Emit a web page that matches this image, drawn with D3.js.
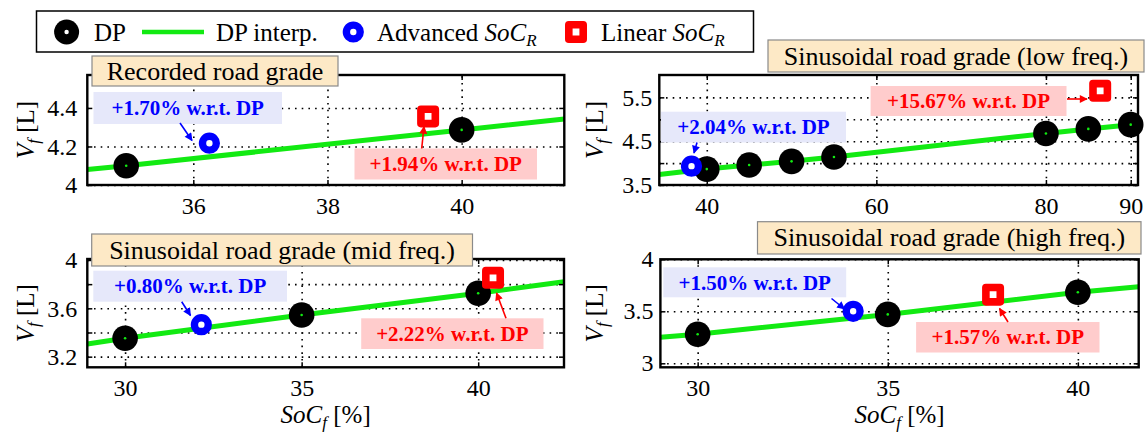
<!DOCTYPE html>
<html><head><meta charset="utf-8">
<script src="https://cdn.jsdelivr.net/npm/d3@7"></script>
<style>body{margin:0;background:#fff} svg{display:block}</style>
</head><body>
<svg id="c" width="1148" height="434"></svg>
<script>
// ---------------- DATA ----------------
// Panel 1: Recorded road grade
const p1Title = "Recorded road grade";
const p1DpSoc = [35, 40];
const p1DpVf = [4.10, 4.286];
const p1InterpSoc = [34.42, 35, 40, 41.53];
const p1InterpVf = [4.08, 4.10, 4.286, 4.343];
const p1AdvSoc = [36.24], p1AdvVf = [4.217];
const p1LinSoc = [39.5], p1LinVf = [4.356];
const p1AdvNote = "+1.70% w.r.t. DP", p1LinNote = "+1.94% w.r.t. DP";
const p1XTicks = [36, 38, 40];
const p1YGrid = [4, 4.2, 4.4];
const p1YLabels = [4, 4.2, 4.4];

// Panel 2: Sinusoidal (low freq.)
const p2Title = "Sinusoidal road grade (low freq.)";
const p2DpSoc = [40, 45, 50, 55, 80, 85, 90];
const p2DpVf = [3.863, 3.956, 4.04, 4.14, 4.675, 4.78, 4.877];
const p2InterpSoc = [34.4, 40, 45, 50, 55, 80, 85, 90, 90.86];
const p2InterpVf = [3.74, 3.863, 3.956, 4.04, 4.14, 4.675, 4.78, 4.877, 4.90];
const p2AdvSoc = [38.2], p2AdvVf = [3.93];
const p2LinSoc = [86.4], p2LinVf = [5.65];
const p2AdvNote = "+2.04% w.r.t. DP", p2LinNote = "+15.67% w.r.t. DP";
const p2XTicks = [40, 60, 80, 90];
const p2YGrid = [3.5, 4, 4.5, 5, 5.5];
const p2YLabels = [3.5, 4.5, 5.5];

// Panel 3: Sinusoidal (mid freq.)
const p3Title = "Sinusoidal road grade (mid freq.)";
const p3DpSoc = [30, 35, 40];
const p3DpVf = [3.352, 3.545, 3.725];
const p3InterpSoc = [28.93, 30, 35, 40, 42.43];
const p3InterpVf = [3.305, 3.352, 3.545, 3.725, 3.82];
const p3AdvSoc = [32.16], p3AdvVf = [3.465];
const p3LinSoc = [40.42], p3LinVf = [3.852];
const p3AdvNote = "+0.80% w.r.t. DP", p3LinNote = "+2.22% w.r.t. DP";
const p3XTicks = [30, 35, 40];
const p3YGrid = [3.2, 3.4, 3.6, 3.8, 4];
const p3YLabels = [3.2, 3.6, 4];

// Panel 4: Sinusoidal (high freq.)
const p4Title = "Sinusoidal road grade (high freq.)";
const p4DpSoc = [30, 35, 40];
const p4DpVf = [3.279, 3.47, 3.683];
const p4InterpSoc = [29.02, 30, 35, 40, 41.6];
const p4InterpVf = [3.25, 3.279, 3.47, 3.683, 3.737];
const p4AdvSoc = [34.09], p4AdvVf = [3.50];
const p4LinSoc = [37.77], p4LinVf = [3.66];
const p4AdvNote = "+1.50% w.r.t. DP", p4LinNote = "+1.57% w.r.t. DP";
const p4XTicks = [30, 35, 40];
const p4YGrid = [3, 3.5, 4];
const p4YLabels = [3, 3.5, 4];

// ---------------- LAYOUT ----------------
const FONT = "'Liberation Serif','Times New Roman',Times,serif";
const GREEN = "#12ea12", BLUE = "#0000ff", RED = "#ff0000";
const panels = [
  {L:87.3,R:564.3,T:75,B:185, xd:[34.42,41.53], yd:[4.0,4.571],
   dpS:p1DpSoc,dpV:p1DpVf,inS:p1InterpSoc,inV:p1InterpVf,advS:p1AdvSoc,advV:p1AdvVf,linS:p1LinSoc,linV:p1LinVf,
   xt:p1XTicks, yg:p1YGrid, yl:p1YLabels, ylPad:10, xlabel:false, ylabX:34,
   title:{text:p1Title,x0:92,x1:338,y0:56,y1:86},
   adv:{text:p1AdvNote,x0:93.5,x1:282,y0:92,y1:124,arrow:[180,123,192,140.5]},
   lin:{text:p1LinNote,x0:354.5,x1:537,y0:148.5,y1:179.5,arrow:[421.7,148.5,424,126.5]}},
  {L:659.3,R:1138,T:75,B:185, xd:[34.4,90.86], yd:[3.5,6.01],
   dpS:p2DpSoc,dpV:p2DpVf,inS:p2InterpSoc,inV:p2InterpVf,advS:p2AdvSoc,advV:p2AdvVf,linS:p2LinSoc,linV:p2LinVf,
   xt:p2XTicks, yg:p2YGrid, yl:p2YLabels, ylPad:7, xlabel:false, ylabX:603,
   title:{text:p2Title,x0:768,x1:1144,y0:40,y1:72},
   adv:{text:p2AdvNote,x0:661,x1:846,y0:111.7,y1:142.5,arrow:[697,142.5,694,153]},
   lin:{text:p2LinNote,x0:870.6,x1:1066.5,y0:86,y1:116,arrow:[1067,99,1087,99]}},
  {L:87.3,R:564,T:259,B:367.3, xd:[28.93,42.43], yd:[3.112,4.008],
   dpS:p3DpSoc,dpV:p3DpVf,inS:p3InterpSoc,inV:p3InterpVf,advS:p3AdvSoc,advV:p3AdvVf,linS:p3LinSoc,linV:p3LinVf,
   xt:p3XTicks, yg:p3YGrid, yl:p3YLabels, ylPad:10, xlabel:true, ylabX:34,
   title:{text:p3Title,x0:91.7,x1:472.5,y0:234,y1:266},
   adv:{text:p3AdvNote,x0:93.3,x1:287,y0:270.7,y1:301.7,arrow:[181.7,301.7,190.5,315.5]},
   lin:{text:p3LinNote,x0:361.2,x1:543.5,y0:318.3,y1:349,arrow:[506,318.3,496.5,293]}},
  {L:660.4,R:1138.7,T:259.3,B:367.3, xd:[29.02,41.6], yd:[2.9615,4.0],
   dpS:p4DpSoc,dpV:p4DpVf,inS:p4InterpSoc,inV:p4InterpVf,advS:p4AdvSoc,advV:p4AdvVf,linS:p4LinSoc,linV:p4LinVf,
   xt:p4XTicks, yg:p4YGrid, yl:p4YLabels, ylPad:7, xlabel:true, ylabX:603,
   title:{text:p4Title,x0:757.5,x1:1141,y0:221.7,y1:254},
   adv:{text:p4AdvNote,x0:663.3,x1:846.2,y0:267.3,y1:297.3,arrow:[831.5,298.5,844.5,309]},
   lin:{text:p4LinNote,x0:916.1,x1:1099.5,y0:322,y1:352.5,arrow:[1008,322,999.5,308.5]}}
];

const svg = d3.select("#c").style("font-family", FONT);

// arrow markers
const defs = svg.append("defs");
[["arrBlue",BLUE],["arrRed",RED]].forEach(([id,c])=>{
  defs.append("marker").attr("id",id).attr("viewBox","0 0 10 10").attr("refX",9).attr("refY",5)
    .attr("markerWidth",9).attr("markerHeight",8).attr("markerUnits","userSpaceOnUse").attr("orient","auto")
    .append("path").attr("d","M0,0 L10,5 L0,10 Z").attr("fill",c);
});

function dpMarker(g, cx, cy, r, dotColor, dotR){
  g.append("circle").attr("cx",cx).attr("cy",cy).attr("r",r).attr("fill","#000");
  g.append("circle").attr("cx",cx).attr("cy",cy).attr("r",dotR).attr("fill",dotColor);
}
function advMarker(g, cx, cy){
  g.append("circle").attr("cx",cx).attr("cy",cy).attr("r",6.9).attr("fill","#fff")
   .attr("stroke",BLUE).attr("stroke-width",7.4);
}
function linMarker(g, cx, cy){
  g.append("rect").attr("x",cx-7.2).attr("y",cy-7.2).attr("width",14.4).attr("height",14.4)
   .attr("fill","#fff").attr("stroke",RED).attr("stroke-width",7.6).attr("stroke-linejoin","round");
}
function noteBox(g, n, fill, color){
  g.append("rect").attr("x",n.x0).attr("y",n.y0).attr("width",n.x1-n.x0).attr("height",n.y1-n.y0).attr("fill",fill);
  g.append("text").attr("x",(n.x0+n.x1)/2).attr("y",(n.y0+n.y1)/2+7.2).attr("text-anchor","middle")
   .attr("font-size",21).attr("font-weight","bold").attr("fill",color).text(n.text);
}
function arrow(g, a, color, id){
  g.append("line").attr("x1",a[0]).attr("y1",a[1]).attr("x2",a[2]).attr("y2",a[3])
   .attr("stroke",color).attr("stroke-width",1.6).attr("marker-end",`url(#${id})`);
}

panels.forEach(p=>{
  const x = d3.scaleLinear().domain(p.xd).range([p.L,p.R]);
  const y = d3.scaleLinear().domain(p.yd).range([p.B,p.T]);
  const w = p.R-p.L, h = p.B-p.T;
  const g = svg.append("g");

  // gridlines
  const gx = g.append("g").attr("transform",`translate(0,${p.B})`)
    .call(d3.axisBottom(x).tickValues(p.xt).tickSize(-h).tickFormat(""));
  const gy = g.append("g").attr("transform",`translate(${p.L},0)`)
    .call(d3.axisLeft(y).tickValues(p.yg).tickSize(-w).tickFormat(""));
  [gx,gy].forEach(s=>{
    s.select(".domain").remove();
    s.selectAll("line").attr("stroke","#000").attr("stroke-width",1.6).attr("stroke-dasharray","1.6,5.1");
  });

  // DP interp line
  const line = d3.line().x((d,i)=>x(p.inS[i])).y((d,i)=>y(p.inV[i]));
  g.append("path").datum(p.inS).attr("d",line).attr("fill","none").attr("stroke",GREEN).attr("stroke-width",5);

  // DP markers
  p.dpS.forEach((s,i)=>dpMarker(g, x(s), y(p.dpV[i]), 12.8, GREEN, 1.3));
  // Advanced
  p.advS.forEach((s,i)=>advMarker(g, x(s), y(p.advV[i])));
  // Linear
  p.linS.forEach((s,i)=>linMarker(g, x(s), y(p.linV[i])));

  // axes box
  g.append("rect").attr("x",p.L).attr("y",p.T).attr("width",w).attr("height",h)
    .attr("fill","none").attr("stroke","#000").attr("stroke-width",2.4);
  // inward ticks
  const tk = [
    [d3.axisBottom(x).tickValues(p.xt).tickSize(-5).tickFormat(""), `translate(0,${p.B})`],
    [d3.axisTop(x).tickValues(p.xt).tickSize(-5).tickFormat(""), `translate(0,${p.T})`],
    [d3.axisLeft(y).tickValues(p.yg).tickSize(-5).tickFormat(""), `translate(${p.L},0)`],
    [d3.axisRight(y).tickValues(p.yg).tickSize(-5).tickFormat(""), `translate(${p.R},0)`]
  ];
  tk.forEach(([ax,tr])=>{
    const s = g.append("g").attr("transform",tr).call(ax);
    s.select(".domain").remove();
    s.selectAll("line").attr("stroke","#000").attr("stroke-width",1.5);
  });

  // tick labels
  const lx = g.append("g").attr("transform",`translate(0,${p.B})`)
    .call(d3.axisBottom(x).tickValues(p.xt).tickSize(0).tickPadding(12).tickFormat(d3.format("")));
  const ly = g.append("g").attr("transform",`translate(${p.L},0)`)
    .call(d3.axisLeft(y).tickValues(p.yl).tickSize(0).tickPadding(p.ylPad).tickFormat(d3.format("")));
  [lx,ly].forEach(s=>{
    s.select(".domain").remove();
    s.selectAll("text").attr("font-family",FONT).attr("font-size",24).attr("fill","#000");
  });

  // y label V_f [L]
  const yt = g.append("text").attr("transform",`translate(${p.ylabX},${(p.T+p.B)/2}) rotate(-90)`)
    .attr("text-anchor","middle").attr("font-size",25).attr("fill","#000");
  yt.append("tspan").attr("font-style","italic").text("V");
  yt.append("tspan").attr("font-style","italic").attr("font-size",17).attr("dy",5).text("f");
  yt.append("tspan").attr("dy",-5).text(" [L]");

  // x label
  if (p.xlabel){
    const xt = g.append("text").attr("x",(p.L+p.R)/2).attr("y",423).attr("text-anchor","middle")
      .attr("font-size",25).attr("fill","#000");
    xt.append("tspan").attr("font-style","italic").text("SoC");
    xt.append("tspan").attr("font-style","italic").attr("font-size",17).attr("dy",5).text("f");
    xt.append("tspan").attr("dy",-5).text(" [%]");
  }

  // title box
  const t = p.title;
  g.append("rect").attr("x",t.x0).attr("y",t.y0).attr("width",t.x1-t.x0).attr("height",t.y1-t.y0)
    .attr("fill","#fde9c6").attr("stroke","#8a8a8a").attr("stroke-width",1.2);
  g.append("text").attr("x",(t.x0+t.x1)/2).attr("y",(t.y0+t.y1)/2+8.5).attr("text-anchor","middle")
    .attr("font-size",26).attr("fill","#000").text(t.text);

  // notes
  noteBox(g, p.adv, "#e6e8fa", BLUE);
  noteBox(g, p.lin, "#ffcccc", RED);
  arrow(g, p.adv.arrow, BLUE, "arrBlue");
  arrow(g, p.lin.arrow, RED, "arrRed");
});

// ---------------- LEGEND ----------------
const lg = svg.append("g");
lg.append("rect").attr("x",36.5).attr("y",11).attr("width",717).attr("height",41)
  .attr("fill","#fff").attr("stroke","#000").attr("stroke-width",1.5);
const ly0 = 32;
dpMarker(lg, 66.6, ly0, 12.5, "#fff", 2.2);
lg.append("text").attr("x",94).attr("y",ly0+8.5).attr("font-size",25).text("DP");
lg.append("line").attr("x1",142).attr("x2",204).attr("y1",ly0).attr("y2",ly0).attr("stroke",GREEN).attr("stroke-width",4.5);
lg.append("text").attr("x",216).attr("y",ly0+8.5).attr("font-size",25).text("DP interp.");
advMarker(lg, 353.3, ly0);
const t1 = lg.append("text").attr("x",377).attr("y",ly0+8.5).attr("font-size",25);
t1.append("tspan").text("Advanced ");
t1.append("tspan").attr("font-style","italic").text("SoC");
t1.append("tspan").attr("font-style","italic").attr("font-size",17).attr("dy",5).text("R");
linMarker(lg, 576, ly0);
const t2 = lg.append("text").attr("x",601).attr("y",ly0+8.5).attr("font-size",25);
t2.append("tspan").text("Linear ");
t2.append("tspan").attr("font-style","italic").text("SoC");
t2.append("tspan").attr("font-style","italic").attr("font-size",17).attr("dy",5).text("R");
</script>
</body></html>
